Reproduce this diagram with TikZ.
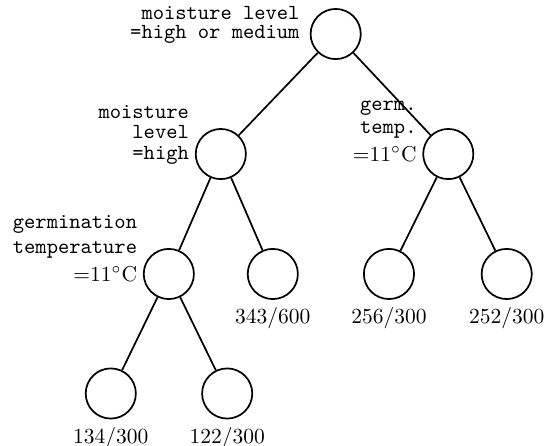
\documentclass[tikz,border=0pt]{standalone}
\usepackage{amsmath}
\usepackage{amsfonts}
\usepackage{tikz}

\begin{document}
\begin{tikzpicture}[auto,
    split/.style ={circle, draw, thick, inner sep = 0pt, minimum size=8.2mm},
    condition/.style ={font=\ttfamily, align=right, inner sep = 0pt, anchor=base east}]
   \useasboundingbox (0,0) rectangle (8.91,-7.29);
   \node[split] (A)  at (5.488,-0.556)  {};
   \node[split] (B)  at (3.610,-2.518)  {};
   \node[split] (C)  at (7.329,-2.518)  {};
   \node[split] (D)  at (2.760,-4.479)  {};
   \node[split] (E)  [label=-90:343/600] at (4.460,-4.479)  {};
   \node[split] (F)  [label=-90:256/300] at (6.359,-4.479)  {};
   \node[split] (G)  [label=-90:252/300] at (8.284,-4.479)  {};
   \node[split] (H)  [label=-90:134/300] at (1.811,-6.433)  {};
   \node[split] (I)  [label=-90:122/300] at (3.714,-6.433)  {};

   \node[condition] (a) at (4.904,-0.626) {moisture level\\[-3.3pt]=high or medium};
   \node[condition] (b) at (3.095,-2.604) {moisture\\[-2.8pt]level\\[-2.2pt]=high};
   \node[condition] (c) at (6.817,-2.643) {germ.\\[-1.2pt]temp.\\[1.2pt]{\rmfamily =11$^\circ$C}};
   \node[condition] (d) at (2.248,-4.594) {germination\\[-0.4pt]temperature\\[0.9pt]{\rmfamily =11$^\circ$C}};

   \draw[thick] (A) to  (B);
   \draw[thick] (A) to  (C);
   \draw[thick] (B) to  (D);
   \draw[thick] (B) to  (E);
   \draw[thick] (C) to  (F);
   \draw[thick] (C) to  (G);
   \draw[thick] (D) to  (H);
   \draw[thick] (D) to  (I);
 \end{tikzpicture}
\end{document}
